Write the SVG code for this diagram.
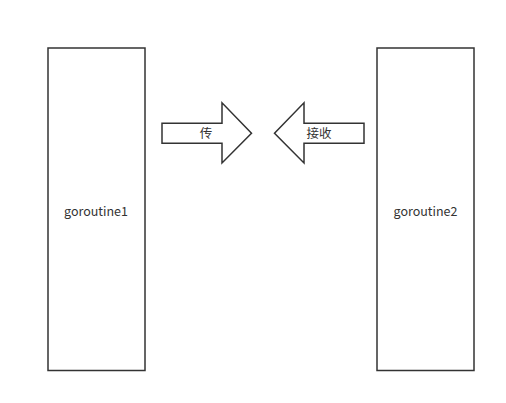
<svg xmlns="http://www.w3.org/2000/svg" width="506" height="403" viewBox="0 0 506 403">
<style>
.box{fill:#fff;stroke:#333;stroke-width:1.5}
.lbl{font-family:"Noto Sans CJK SC","Noto Sans",sans-serif;font-size:12.5px;fill:#333;text-anchor:middle;dominant-baseline:central}
</style>
<rect width="506" height="403" fill="#fff"/>
<g id="goroutine1"><rect class="box" x="48" y="48" width="97" height="322.5"/><text class="lbl" x="96" y="210">goroutine1</text></g>
<g id="goroutine2"><rect class="box" x="377" y="48" width="97" height="322.5"/><text class="lbl" x="425.5" y="210">goroutine2</text></g>
<g id="connectors">
<g id="send"><polygon class="box" points="162,123.3 222,123.3 222,102.8 251.5,133.3 222,163 222,143.3 162,143.3"/><text class="lbl" x="206" y="132.5">传</text></g>
<g id="recv"><polygon class="box" points="364,123.3 304,123.3 304,102.8 274.5,133.3 304,163 304,143.3 364,143.3"/><text class="lbl" x="319" y="132.5">接收</text></g>
</g>
</svg>
